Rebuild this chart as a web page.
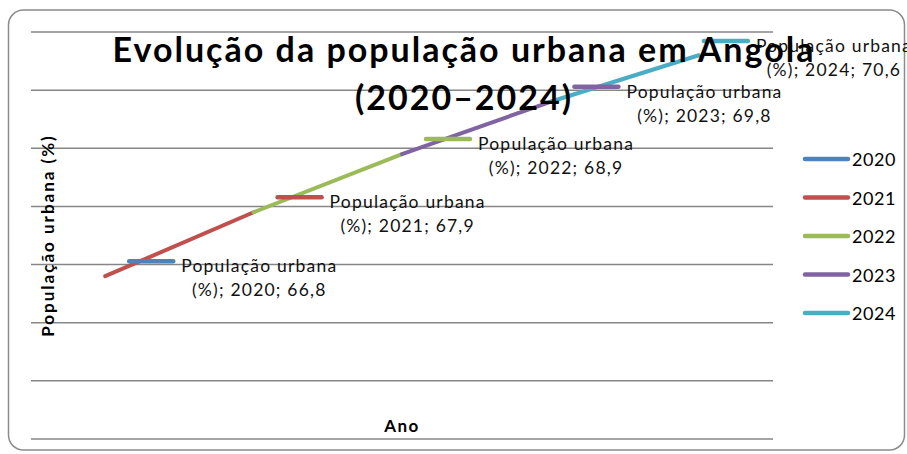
<!DOCTYPE html>
<html>
<head>
<meta charset="utf-8">
<script src="https://cdn.jsdelivr.net/npm/d3@7"></script>
<style>
  body { margin: 0; background: #fff; }
  text { font-family: Lato, "Open Sans", sans-serif; }
</style>
</head>
<body>
<svg id="chart"></svg>
<script>
// Data
const years = ['2020', '2021', '2022', '2023', '2024'];
const urbanPct = [66.8, 67.9, 68.9, 69.8, 70.6];
const seriesColors = ['#4F81BD', '#C0504D', '#9BBB59', '#8064A2', '#4BACC6'];
const labelName = 'População urbana';
const yDomain = [64, 71];
const gridSteps = 7;

// Size of SVG
const svgWidth = 907;
const svgHeight = 454;

// Plot area
const plot = { left: 31, right: 773, top: 32, bottom: 439 };

const svg = d3
  .select('#chart')
  .attr('width', svgWidth)
  .attr('height', svgHeight);

// Outer rounded frame
svg
  .append('rect')
  .attr('x', 8.5)
  .attr('y', 10)
  .attr('width', 896)
  .attr('height', 440)
  .attr('rx', 15)
  .attr('fill', 'none')
  .attr('stroke', '#8c8c8c')
  .attr('stroke-width', 1.5);

// Scales
const xScale = d3
  .scalePoint()
  .domain(years)
  .range([plot.left, plot.right])
  .padding(0.5);

const yScale = d3
  .scaleLinear()
  .domain(yDomain)
  .range([plot.bottom, plot.top]);

// Gridlines
const gridValues = d3.range(gridSteps + 1).map(
  (i) => yDomain[0] + (i * (yDomain[1] - yDomain[0])) / gridSteps
);
svg
  .append('g')
  .selectAll('line')
  .data(gridValues)
  .enter()
  .append('line')
  .attr('x1', plot.left)
  .attr('x2', plot.right)
  .attr('y1', (d) => yScale(d))
  .attr('y2', (d) => yScale(d))
  .attr('stroke', '#868686')
  .attr('stroke-width', 1.5);

// Points
const points = years.map((y, i) => ({
  year: y,
  value: urbanPct[i],
  color: seriesColors[i],
  x: xScale(y),
  y: yScale(urbanPct[i]),
}));

// Line segments, each coloured by the point it leads to
const segments = points.slice(1).map((p, i) => ({ from: points[i], to: p }));
svg
  .append('g')
  .selectAll('line')
  .data(segments)
  .enter()
  .append('line')
  .attr('x1', (d) => d.from.x)
  .attr('y1', (d) => d.from.y)
  .attr('x2', (d) => d.to.x)
  .attr('y2', (d) => d.to.y)
  .attr('stroke', (d) => d.to.color)
  .attr('stroke-width', 4)
  .attr('stroke-linecap', 'round');

// Data labels with legend key
const labelGroup = svg.append('g');
points.forEach((p) => {
  const g = labelGroup.append('g');
  const line1 = g
    .append('text')
    .attr('font-size', '17.5px')
    .attr('letter-spacing', '1.2px')
    .attr('fill', '#111')
    .text(labelName);
  const line2 = g
    .append('text')
    .attr('font-size', '17.5px')
    .attr('letter-spacing', '1.2px')
    .attr('fill', '#111')
    .attr('text-anchor', 'middle')
    .text(`(%); ${p.year}; ${String(p.value).replace('.', ',')}`);
  const w = line1.node().getComputedTextLength();
  const blockW = 52 + w;
  // labels that would leave the chart are pushed back left, as Excel does
  const kx = Math.min(p.x + 24, svgWidth + 5 - blockW);
  const ky = Math.max(p.y - 15, 41);
  g.append('line')
    .attr('x1', kx)
    .attr('x2', kx + 44)
    .attr('y1', ky)
    .attr('y2', ky)
    .attr('stroke', p.color)
    .attr('stroke-width', 4.5)
    .attr('stroke-linecap', 'round');
  line1.attr('x', kx + 52).attr('y', ky + 11);
  line2.attr('x', kx + 52 + w / 2).attr('y', ky + 35);
});

// Title
const title = svg
  .append('text')
  .attr('text-anchor', 'middle')
  .attr('font-size', '34px')
  .attr('font-weight', 'bold')
  .attr('letter-spacing', '2px')
  .attr('fill', '#000');
title.append('tspan').attr('x', 464).attr('y', 62).text('Evolução da população urbana em Angola');
title.append('tspan').attr('x', 464).attr('y', 110).text('(2020–2024)');

// Axis titles
svg
  .append('text')
  .attr('transform', `translate(54, ${(plot.top + plot.bottom) / 2}) rotate(-90)`)
  .attr('text-anchor', 'middle')
  .attr('font-size', '17px')
  .attr('font-weight', 'bold')
  .attr('letter-spacing', '2px')
  .text('População urbana (%)');

svg
  .append('text')
  .attr('x', (plot.left + plot.right) / 2)
  .attr('y', 432)
  .attr('text-anchor', 'middle')
  .attr('font-size', '17px')
  .attr('font-weight', 'bold')
  .attr('letter-spacing', '1.5px')
  .text('Ano');

// Legend
const legend = svg
  .append('g')
  .selectAll('g')
  .data(points)
  .enter()
  .append('g')
  .attr('transform', (d, i) => `translate(805, ${159 + i * 38.5})`);

legend
  .append('line')
  .attr('x1', 0)
  .attr('x2', 43)
  .attr('stroke', (d) => d.color)
  .attr('stroke-width', 4.5)
  .attr('stroke-linecap', 'round');

legend
  .append('text')
  .attr('x', 47)
  .attr('y', 7)
  .attr('font-size', '18px')
  .attr('letter-spacing', '0.6px')
  .text((d) => d.year);
</script>
</body>
</html>
